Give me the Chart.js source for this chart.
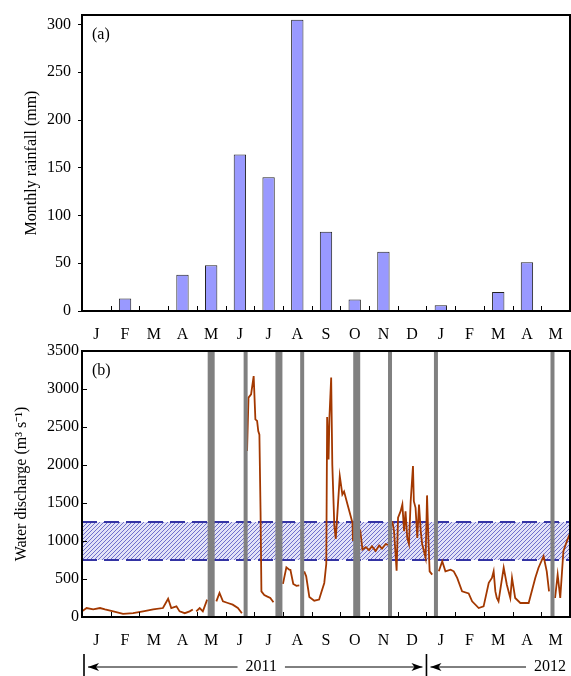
<!DOCTYPE html>
<html>
<head>
<meta charset="utf-8">
<script src="https://cdn.jsdelivr.net/npm/chart.js@4.4.1/dist/chart.umd.min.js"></script>
<style>
  html, body { margin: 0; padding: 0; background: #fff; }
  #wrap { position: relative; width: 571px; height: 676px; }
  canvas { position: absolute; left: 0; }
</style>
</head>
<body>
<div id="wrap">
  <canvas id="rainChart" width="571" height="345" style="top:0"></canvas>
  <canvas id="flowChart" width="571" height="346" style="top:330px"></canvas>
</div>
<script>
// ---- data ----
const months = ['J','F','M','A','M','J','J','A','S','O','N','D','J','F','M','A','M'];
const rainfall = [0, 13, 0, 38, 48, 164, 140, 305, 83, 12, 62, 0, 6, 1, 20, 51, 0];
const rainTicks = [0, 50, 100, 150, 200, 250, 300];
const flowTicks = [0, 500, 1000, 1500, 2000, 2500, 3000, 3500];
const bandLow = 750;
const bandHigh = 1250;
// sampling gaps (month index, 0 = start of Jan 2011)
const gapMonths = [4.50, 5.70, 6.86, 7.67, 9.57, 10.73, 12.33, 16.39];
const gapWide = [true, false, true, false, true, false, false, false];
const years = ['2011', '2012'];
const yearStart = [0, 12, 17];

const dischargeMonth = [
  0.00, 0.16, 0.39, 0.63, 0.80, 1.09, 1.43, 1.78, 2.13, 2.48, 2.82, 3.00, 3.11, 3.29, 3.40, 3.58, 3.75, 3.86, 3.92,
  3.98, 4.10, 4.21, 4.36, 4.50,
  4.68, 4.79, 4.91, 5.08, 5.25, 5.43, 5.57, 5.70,
  5.75, 5.80, 5.89, 5.98, 6.04, 6.10, 6.14, 6.18, 6.22, 6.25, 6.35, 6.46, 6.56, 6.67, 6.86,
  7.00, 7.12, 7.22, 7.26, 7.36, 7.47, 7.57, 7.67,
  7.74, 7.81, 7.92, 8.09, 8.26, 8.33, 8.44, 8.51, 8.54, 8.59, 8.62, 8.68, 8.72, 8.79, 8.84, 8.98, 9.07, 9.13, 9.25, 9.42, 9.44, 9.57,
  9.69, 9.77, 9.89, 10.00, 10.10, 10.23, 10.35, 10.45, 10.58, 10.66, 10.73,
  10.81, 10.87, 10.96, 11.01, 11.10, 11.16, 11.22, 11.27, 11.33, 11.39, 11.45, 11.53, 11.56, 11.62, 11.68, 11.74, 11.80, 11.85, 11.97, 12.02, 12.06, 12.11, 12.20, 12.33,
  12.43, 12.55, 12.66, 12.84, 12.95, 13.07, 13.24, 13.47, 13.59, 13.82, 13.99, 14.17, 14.28, 14.34, 14.40, 14.45, 14.51, 14.69, 14.80, 14.92, 14.98, 15.09, 15.27, 15.56, 15.79, 15.90, 16.08, 16.19, 16.27, 16.39,
  16.48, 16.57, 16.66, 16.77, 16.89, 17.00
];
const dischargeFlow = [
  74, 118, 100, 118, 100, 74, 40, 50, 74, 100, 118, 240, 118, 140, 74, 50, 74, 100, null,
  74, 118, 74, 228, null,
  206, 316, 206, 184, 162, 118, 50, null,
  2183, 2886, 2930, 3170, 2600, 2580, 2446, 2400, 1392, 337, 290, 268, 250, 193, null,
  435, 654, 623, 620, 435, 410, 416, null,
  600, 535, 263, 215, 230, 316, 448, 700, 2631, 2073, 2627, 3150, 2000, 1200, 1028, 1853, 1612, 1650, 1480, 1243, 1000, null,
  1150, 887, 920, 880, 930, 870, 940, 900, 960, 950, null,
  1260, 1130, 610, 1308, 1392, 1480, 1130, 1392, 1041, 960, 1524, 1985, 1524, 1437, 1041, 1480, 1130, 960, 777, 1600, 1100, 601, 557, null,
  601, 733, 601, 623, 601, 514, 337, 310, 206, 118, 140, 450, 514, 601, 337, 250, 206, 650, 425, 250, 514, 250, 184, 184, 514, 645, 800, 601, 337, null,
  250, 557, 250, 865, 996, 1100
];

Chart.defaults.font.family = '"Liberation Serif", "Times New Roman", serif';
Chart.defaults.font.size = 16;
Chart.defaults.color = '#000';
Chart.defaults.animation = false;

// keep the plot box where the figure has it (labels must not push it)
function fixY(s) { s.width = 82; s.paddingTop = 0; s.paddingBottom = 0; }
function fixX(h) { return s => { s.height = h; s.paddingLeft = 0; s.paddingRight = 0; }; }

// frame, inward month ticks, panel letter
const frame = {
  id: 'frame',
  afterDatasetsDraw(chart, args, opts) {
    const {ctx, chartArea: a, scales: {x, y}} = chart;
    ctx.save();
    ctx.strokeStyle = '#000';
    ctx.lineWidth = 1;
    ctx.beginPath();
    for (let i = 1; i < months.length; i++) {
      const px = Math.round(x.getPixelForValue(i + opts.shift)) + 0.5;
      ctx.moveTo(px, a.bottom);
      ctx.lineTo(px, a.bottom - 5);
    }
    if (opts.yInside) {
      opts.yInside.forEach(v => {
        const py = Math.round(y.getPixelForValue(v)) + 0.5;
        ctx.moveTo(a.left, py);
        ctx.lineTo(a.left + 5, py);
      });
    }
    ctx.stroke();
    ctx.lineWidth = 2;
    ctx.strokeRect(a.left, a.top, a.right - a.left, a.bottom - a.top);
    ctx.font = '16px "Liberation Serif", serif';
    ctx.fillStyle = '#000';
    ctx.textBaseline = 'middle';
    ctx.textAlign = 'left';
    ctx.fillText(opts.letter, a.left + 10, a.top + 20);
    ctx.restore();
  }
};

// year brackets under panel (b)
const yearAxis = {
  id: 'yearAxis',
  afterDraw(chart) {
    const {ctx, scales: {x}} = chart;
    const yMid = 337;
    const b0 = x.getPixelForValue(yearStart[0]) + 2;
    const b1 = x.getPixelForValue(yearStart[1]);
    ctx.save();
    ctx.strokeStyle = '#000';
    ctx.fillStyle = '#000';
    ctx.font = '16px "Liberation Serif", serif';
    ctx.textBaseline = 'middle';
    ctx.lineWidth = 1.6;
    ctx.beginPath();
    [b0, b1].forEach(bx => { ctx.moveTo(bx, 324); ctx.lineTo(bx, 346); });
    ctx.stroke();

    function arrow(from, to) {
      ctx.lineWidth = 1;
      ctx.beginPath();
      ctx.moveTo(from, yMid);
      ctx.lineTo(to, yMid);
      ctx.stroke();
      const d = to > from ? -1 : 1;
      ctx.beginPath();
      ctx.moveTo(to, yMid);
      ctx.lineTo(to + d * 11, yMid - 4);
      ctx.lineTo(to + d * 8, yMid);
      ctx.lineTo(to + d * 11, yMid + 4);
      ctx.closePath();
      ctx.fill();
    }

    ctx.textAlign = 'center';
    const c0 = (b0 + b1) / 2 + 6;
    const w0 = ctx.measureText(years[0]).width;
    ctx.fillText(years[0], c0, yMid);
    arrow(c0 - w0 / 2 - 8, b0 + 4);
    arrow(c0 + w0 / 2 + 8, b1 - 4);

    ctx.textAlign = 'right';
    const r1 = x.right - 4;
    const w1 = ctx.measureText(years[1]).width;
    ctx.fillText(years[1], r1, yMid);
    arrow(r1 - w1 - 8, b1 + 4);
    ctx.restore();
  }
};

// ---- panel (a): monthly rainfall ----
new Chart(document.getElementById('rainChart'), {
  type: 'bar',
  data: {
    labels: months,
    datasets: [{
      data: rainfall,
      backgroundColor: '#9999ff',
      borderColor: '#222',
      borderWidth: 1,
      borderSkipped: 'start',
      categoryPercentage: 1,
      barPercentage: 0.43
    }]
  },
  options: {
    responsive: false,
    devicePixelRatio: 1,
    layout: { padding: { top: 15, right: 1, left: 0, bottom: 0 } },
    plugins: {
      legend: { display: false },
      tooltip: { enabled: false },
      frame: { shift: -0.5, letter: '(a)' }
    },
    scales: {
      x: {
        grid: { display: false, drawTicks: false },
        border: { display: false },
        ticks: { padding: 14, maxRotation: 0, autoSkip: false },
        afterFit: fixX(34)
      },
      y: {
        min: 0,
        max: 310,
        afterBuildTicks: s => { s.ticks = rainTicks.map(v => ({ value: v })); },
        grid: { drawOnChartArea: false, tickLength: 4, color: '#000', lineWidth: 1 },
        border: { display: false },
        ticks: { padding: 7, callback: v => String(v) },
        title: { display: true, text: 'Monthly rainfall (mm)', padding: { top: 22 } },
        afterFit: fixY
      }
    }
  },
  plugins: [frame]
});

// ---- panel (b): water discharge ----
function hatch() {
  const c = document.createElement('canvas');
  c.width = 4; c.height = 4;
  const g = c.getContext('2d');
  g.fillStyle = '#e2e2f7';
  g.fillRect(0, 0, 4, 4);
  g.strokeStyle = '#7070cc';
  g.lineWidth = 1;
  g.beginPath();
  g.moveTo(0, 4); g.lineTo(4, 0);
  g.moveTo(-1, 1); g.lineTo(1, -1);
  g.moveTo(3, 5); g.lineTo(5, 3);
  g.stroke();
  return g.createPattern(c, 'repeat');
}

const flowTop = flowTicks[flowTicks.length - 1];
const gapSets = gapMonths.map((m, i) => ({
  data: [{ x: m, y: 0 }, { x: m, y: flowTop }],
  borderColor: '#808080',
  borderWidth: gapWide[i] ? 7 : 4,
  pointRadius: 0,
  fill: false
}));

const dischargeSet = {
  data: dischargeMonth.map((m, i) => ({ x: m, y: dischargeFlow[i] })),
  borderColor: '#a33800',
  borderWidth: 1.8,
  pointRadius: 0,
  spanGaps: false,
  fill: false,
  tension: 0
};

const bandStyle = {
  borderColor: '#3434a4',
  borderWidth: 2,
  borderDash: [15, 7],
  pointRadius: 0
};
const bandSets = [
  Object.assign({ data: [{ x: 0, y: bandLow }, { x: months.length, y: bandLow }], fill: false }, bandStyle),
  Object.assign({ data: [{ x: 0, y: bandHigh }, { x: months.length, y: bandHigh }], fill: '-1', backgroundColor: hatch() }, bandStyle),
  Object.assign({ data: [{ x: 0, y: bandLow }, { x: 0, y: bandHigh }], fill: false }, bandStyle)
];

new Chart(document.getElementById('flowChart'), {
  type: 'line',
  data: { datasets: gapSets.concat([dischargeSet], bandSets) },
  options: {
    responsive: false,
    devicePixelRatio: 1,
    layout: { padding: { top: 21, right: 1, left: 0, bottom: 0 } },
    plugins: {
      legend: { display: false },
      tooltip: { enabled: false },
      frame: { shift: 0, letter: '(b)', yInside: flowTicks }
    },
    scales: {
      x: {
        type: 'linear',
        min: 0,
        max: months.length,
        afterBuildTicks: s => { s.ticks = months.map((m, i) => ({ value: i + 0.5 })); },
        grid: { display: false, drawTicks: false },
        border: { display: false },
        ticks: { padding: 14, maxRotation: 0, autoSkip: false, callback: (v, i) => months[i] },
        afterFit: fixX(59)
      },
      y: {
        min: 0,
        max: flowTop,
        afterBuildTicks: s => { s.ticks = flowTicks.map(v => ({ value: v })); },
        grid: { display: false, drawTicks: false },
        border: { display: false },
        ticks: { padding: 3, callback: v => String(v) },
        title: { display: true, text: 'Water discharge (m\u00B3 s\u207B\u00B9)', padding: { top: 12 } },
        afterFit: fixY
      }
    }
  },
  plugins: [frame, yearAxis]
});
</script>
</body>
</html>
